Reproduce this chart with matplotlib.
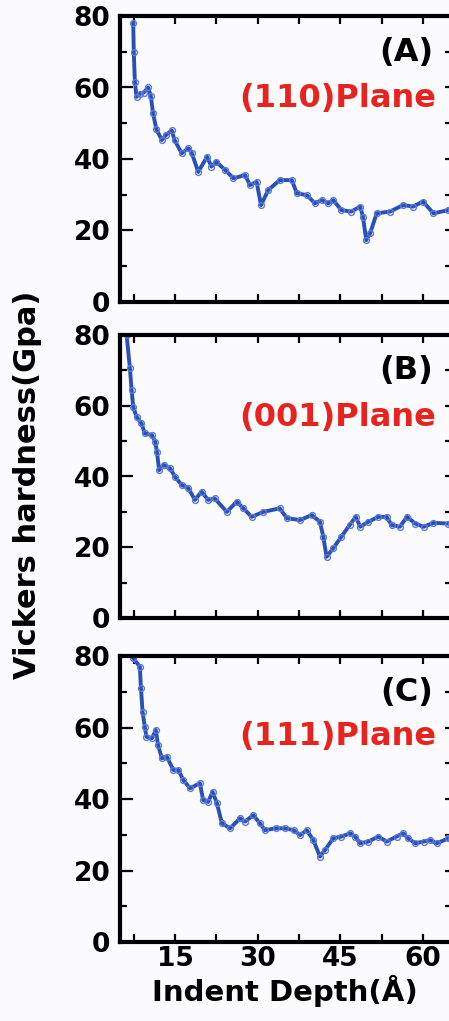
import matplotlib
matplotlib.use('Agg')
import matplotlib.pyplot as plt
from matplotlib.ticker import FuncFormatter

# ---------------- data ----------------
depth_a = [7.4, 7.5, 7.7, 8.0, 8.6, 9.3, 10.1, 10.6, 11.0, 11.6, 12.6, 13.4, 14.4, 14.9, 16.2,
           17.4, 18.0, 19.2, 20.8, 21.6, 22.5, 24.1, 25.6, 27.7, 28.6, 29.8, 30.6, 31.9, 34.0, 36.2,
           37.1, 38.9, 40.4, 41.6, 42.8, 43.7, 45.2, 47.0, 48.6, 49.1, 49.7, 50.4, 51.6, 54.0, 56.4,
           58.2, 60.0, 61.9, 64.6, 65.0]
hard_a = [78.0, 70.0, 61.6, 57.4, 58.2, 58.6, 60.0, 57.6, 52.8, 48.3, 45.3, 46.8, 48.0, 45.3, 41.6,
          43.0, 41.8, 36.4, 40.6, 37.9, 39.2, 36.9, 34.6, 35.5, 32.7, 33.6, 27.1, 31.3, 34.1, 34.1,
          30.4, 29.9, 27.6, 28.5, 27.6, 28.5, 25.7, 25.3, 26.7, 23.9, 17.3, 19.2, 24.8, 25.3, 27.1,
          26.7, 28.1, 24.8, 25.7, 25.8]

depth_b = [6.2, 6.8, 7.1, 7.4, 8.0, 8.9, 9.5, 10.8, 11.4, 11.7, 12.1, 12.9, 14.1, 15.0, 16.2,
           17.4, 18.6, 19.8, 21.0, 22.2, 24.4, 26.2, 27.4, 28.9, 31.0, 34.0, 35.3, 37.7, 39.8, 41.3,
           41.9, 42.5, 43.7, 45.2, 46.7, 47.8, 48.6, 50.1, 51.9, 53.4, 54.3, 55.8, 57.1, 58.6, 60.1,
           61.9, 64.6, 65.0]
hard_b = [80.0, 70.6, 64.5, 59.7, 56.9, 55.0, 52.2, 51.7, 49.8, 47.0, 41.8, 43.3, 42.3, 39.9, 37.6,
          36.7, 33.4, 35.7, 33.4, 33.8, 30.0, 32.9, 31.0, 28.6, 30.0, 31.0, 28.2, 27.7, 29.1, 27.2,
          23.0, 17.3, 19.7, 23.0, 26.3, 28.6, 25.8, 27.2, 28.6, 28.6, 26.3, 25.8, 28.6, 26.7, 25.8,
          26.9, 26.7, 26.7]

depth_c = [7.4, 8.6, 8.8, 9.1, 9.5, 9.8, 10.8, 11.5, 11.9, 12.6, 13.5, 14.7, 15.6, 16.5, 17.7,
           19.5, 20.1, 21.0, 21.8, 22.6, 23.5, 25.0, 26.8, 27.7, 29.2, 30.4, 31.3, 33.4, 34.9, 36.5,
           37.7, 38.9, 40.1, 41.3, 42.2, 43.7, 45.2, 46.8, 47.7, 48.6, 50.1, 51.9, 53.4, 55.2, 56.4,
           57.3, 58.6, 60.1, 61.3, 62.5, 64.6, 65.0]
hard_c = [79.4, 77.0, 71.0, 64.4, 60.2, 57.4, 57.0, 59.3, 55.1, 51.4, 51.8, 48.1, 48.1, 45.3, 43.0,
          44.4, 39.7, 39.2, 42.0, 38.8, 33.2, 31.8, 34.6, 33.7, 35.5, 33.2, 31.3, 31.8, 31.8, 31.3,
          29.9, 31.3, 28.5, 23.9, 25.7, 29.0, 29.5, 30.4, 29.5, 27.6, 28.1, 29.5, 28.1, 29.5, 30.4,
          29.0, 27.6, 28.1, 28.5, 27.6, 29.0, 28.8]

panel_letters = ['(A)', '(B)', '(C)']
plane_labels = ['(110)Plane', '(001)Plane', '(111)Plane']
x_major = [7.5, 15, 22.5, 30, 37.5, 45, 52.5, 60]
x_labeled = [15, 30, 45, 60]
y_major = [0, 20, 40, 60, 80]
y_minor = [10, 30, 50, 70]
y_right = [0, 10, 20, 30, 40, 50, 60, 70, 80]

# ---------------- style ----------------
plt.rcParams['font.family'] = ['DejaVu Sans']
plt.rcParams['font.weight'] = 'bold'
BG = '#fbfbfd'
LINE = '#2a4fb5'
MARK = '#5a7bd6'
RED = '#e8231f'

W, H = 449, 1021
fig = plt.figure(figsize=(W / 100, H / 100), dpi=100, facecolor=BG)

panels_px = [(16, 302), (335, 618), (656, 942)]
datasets = [(depth_a, hard_a), (depth_b, hard_b), (depth_c, hard_c)]
letter_y = [0.871, 0.876, 0.871]
plane_y = [0.710, 0.710, 0.717]

left_px, right_px = 120, 450.5
axes = []
for i, ((top, bot), (xs, ys)) in enumerate(zip(panels_px, datasets)):
    ax = fig.add_axes([left_px / W, 1 - bot / H, (right_px - left_px) / W, (bot - top) / H])
    ax.set_facecolor(BG)
    ax.plot(xs, ys, color=LINE, lw=2.8, marker='o', ms=4.2, mfc='none', mec=MARK, mew=1.0,
            clip_on=True)
    ax.set_xlim(5, 65)
    ax.set_ylim(0, 80)
    for s in ax.spines.values():
        s.set_linewidth(3)
    ax.spines['right'].set_visible(False)

    ax.set_yticks(y_major)
    ax.set_yticks(y_minor, minor=True)
    ax.tick_params(axis='y', which='major', direction='in', length=9, width=1.6,
                   left=True, right=False, labelsize=19, pad=7)
    ax.tick_params(axis='y', which='minor', direction='in', length=5, width=1.6,
                   left=True, right=False)
    ax.set_xticks(x_major)
    ax.xaxis.set_major_formatter(FuncFormatter(
        lambda v, p: f'{int(v)}' if v in x_labeled else ''))
    ax.tick_params(axis='x', which='major', direction='in', length=6, width=1.6,
                   top=True, bottom=True, labelsize=19, pad=3,
                   labelbottom=(i == 2))
    for lab in ax.get_yticklabels() + ax.get_xticklabels():
        lab.set_fontweight('bold')

    sec = ax.secondary_yaxis('right')
    sec.set_yticks(y_right)
    sec.tick_params(direction='in', length=4, width=1.6, labelright=False)
    sec.spines['right'].set_linewidth(3)

    ax.text(0.948, letter_y[i], panel_letters[i], transform=ax.transAxes, ha='right',
            va='center', fontsize=23, fontweight='bold', color='black')
    ax.text(0.957, plane_y[i], plane_labels[i], transform=ax.transAxes, ha='right',
            va='center', fontsize=23, fontweight='bold', color=RED)
    axes.append(ax)

axes[2].set_xlabel('Indent Depth(Å)', fontsize=21, fontweight='bold', labelpad=2)
fig.text(28 / W, 1 - 485 / H, 'Vickers hardness(Gpa)', rotation=90, ha='center',
         va='center', fontsize=22, fontweight='bold')

fig.savefig('out.png', dpi=100, facecolor=BG)
